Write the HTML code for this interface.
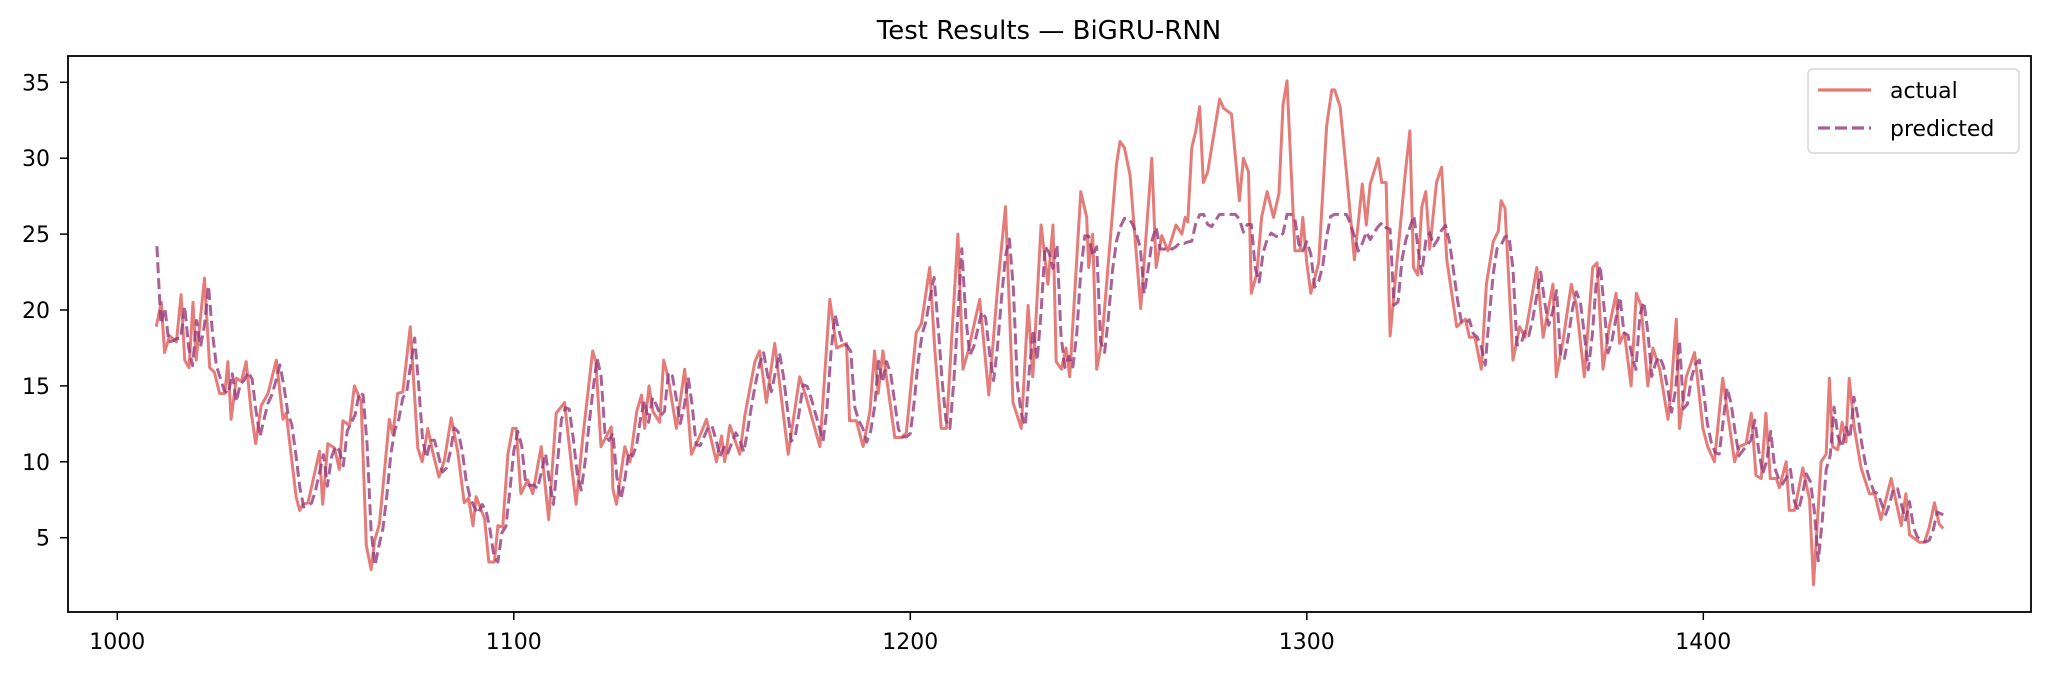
<!DOCTYPE html>
<html><head><meta charset="utf-8"><style>
html,body{margin:0;padding:0;background:#fff;}
svg{display:block;font-family:"DejaVu Sans","Liberation Sans",sans-serif;}
</style></head><body>
<svg id="s" width="2048" height="675" viewBox="0 0 2048 675" xmlns="http://www.w3.org/2000/svg">
<rect width="2048" height="675" fill="#fff"/>
<text x="1049" y="39" font-size="26" text-anchor="middle" fill="#000">Test Results — BiGRU-RNN</text>
<g id="plot"></g>
<rect x="68" y="56" width="1963" height="556" fill="none" stroke="#000" stroke-width="1.8"/>
<g id="ticks" font-size="22" fill="#000"></g>
<g>
<rect x="1808" y="69" width="211" height="84" rx="5" fill="#fff" fill-opacity="0.8" stroke="#d6d6d6" stroke-width="1.5"/>
<line x1="1818" y1="90" x2="1871" y2="90" stroke="#e06a66" stroke-opacity="0.9" stroke-width="3.2"/>
<line x1="1818" y1="128" x2="1871" y2="128" stroke="#953a7c" stroke-opacity="0.82" stroke-width="3.2" stroke-dasharray="12,5"/>
<text x="1890" y="98" font-size="22">actual</text>
<text x="1890" y="136" font-size="22">predicted</text>
</g>
</svg>
<script>
var K=[[1009.8,18.9],[1011.1,20.5],[1011.9,17.2],[1013.2,18.3],[1014.9,17.9],[1016.1,21],[1017,16.7],[1018.1,16.2],[1019.1,20.5],[1019.9,16.7],[1022,22.1],[1023.3,16.2],[1024.5,15.9],[1025.8,14.5],[1027.1,14.5],[1027.9,16.6],[1028.7,12.8],[1030,15.5],[1031.3,15.3],[1032.5,16.6],[1033.8,13.2],[1034.9,11.2],[1036.3,13.7],[1038,14.5],[1040.1,16.7],[1041.8,12.8],[1042.6,13.2],[1045.1,7.7],[1046,6.8],[1046.8,7.2],[1048.1,7.3],[1051,10.7],[1051.8,7.2],[1053.1,11.2],[1054.8,10.9],[1056,9.5],[1056.9,12.7],[1058.6,12.4],[1059.8,15],[1061.5,14],[1062.8,4.5],[1064,2.9],[1064.9,4.8],[1066.1,5.9],[1067.4,9.4],[1068.6,12.8],[1069.5,11.8],[1070.7,14.5],[1072,14.6],[1073.9,18.9],[1075.8,10.9],[1076.9,10],[1078.3,12.2],[1079.6,10.6],[1081.1,9],[1082.5,10.1],[1084.2,12.9],[1085.9,10.6],[1087.5,7.3],[1088.6,7.6],[1089.7,5.8],[1090.5,7.7],[1091.8,6.8],[1092.6,6.3],[1093.7,3.4],[1095.1,3.4],[1096,5.8],[1097.2,5.7],[1098.5,10.5],[1099.7,12.2],[1100.6,12.2],[1101.8,7.9],[1103.5,8.8],[1104.8,7.9],[1106.9,11],[1108.8,6.2],[1110.7,13.2],[1112.8,13.9],[1114.4,10.1],[1115.7,7.2],[1117.4,11.6],[1119.9,17.3],[1120.7,16.6],[1122,11.0],
[1124.6,12.3],[1125,8.2],[1125.9,7.2],[1128,11],[1129.3,10],[1131,13.3],[1132.2,14.4],[1133,12.2],[1134.1,15],[1135.1,13.3],[1136.8,12.6],[1137.8,16.7],[1138.9,15.6],[1141,12.2],[1143.1,16.1],[1144.8,10.5],[1146.9,11.7],[1148.6,12.8],[1151.1,10],[1152.4,11.7],[1153.2,10],[1154.5,12.4],[1157,10.5],[1158.3,13.1],[1160.8,16.6],[1162,17.3],[1163.7,13.9],[1165.8,17.8],[1169.2,10.5],[1172.1,15.6],[1173.8,14.2],[1177.2,11],[1179.7,20.7],[1181.4,17.5],[1183.9,17.8],[1184.7,12.7],[1186.4,12.7],[1188.1,11],[1189.8,13.3],[1191,17.3],[1191.9,14.5],[1193.1,17.3],[1196.1,11.6],[1197.8,11.6],[1199,11.9],[1201.5,18.5],[1202.8,19.1],[1204.9,22.8],[1206.2,17.3],[1207.8,12.2],[1209.1,12.2],[1212,25],[1213.3,16.1],[1214.6,17.3],[1217.5,20.7],[1219.8,14.4],[1222.1,21.7],[1224,26.8],[1225.9,13.9],[1228,12.2],[1229.7,20.3],[1230.9,15.6],[1233,25.6],[1234.7,21.7],[1236,25.6],[1236.8,16.6],[1238.1,16.1],[1239.3,17.5],[1240.2,15.6],
[1243,27.8],[1244.5,26.1],[1245,22.8],[1246,25],[1247,16.1],[1248.3,17.9],[1250.4,24.5],[1252,29.6],[1252.9,31.1],[1254,30.7],[1255.4,28.9],[1258.1,20.1],[1260.9,30],[1262,22.8],[1263.4,24.9],[1265,23.9],[1267,25.6],[1268.5,25],[1269.3,26.1],[1270,25.8],[1271,30.7],[1272,31.8],[1273,33.4],[1273.9,28.4],[1275,29.1],[1278,33.9],[1279,33.3],[1281,32.9],[1283,27.2],[1284,30],[1285.3,29.1],[1286,21.1],[1287.4,22.4],[1288.6,26.1],[1290,27.8],[1291.6,26.1],[1293,27.7],[1294,33.5],[1295,35.1],[1297,23.9],[1298.3,23.9],[1299,26.1],[1300,23.1],[1301,21.1],[1303,23.1],[1305,32.1],[1306.3,34.5],[1307,34.5],[1308.4,33.4],[1310,29.1],[1312,23.3],[1314,28.3],[1315,25.6],[1316,28.3],[1318,30],[1318.9,28.4],[1320,28.4],[1321,18.3],[1324.8,28.9],[1326,31.8],[1326.9,22.8],[1328,22.3],[1329,26.8],[1330,27.8],[1331,24],[1332.7,28.4],[1334,29.4],[1335.3,23.3],[1337.8,18.9],[1340,19.4],[1341,18.2],[1342.4,18.2],[1344,16.1],[1345.3,21.7],[1347,24.5],[1348.3,25.2],[1349,27.2],[1350,26.7],[1352,16.7],[1353.7,18.9],[1355,18.2],[1358,22.8],[1359.6,18.2],
[1362.1,21.7],[1362.9,15.6],[1364.6,17.9],[1366.7,21.7],[1368,20.3],[1370,15.6],[1372.1,22.8],[1373.2,23.1],[1374.7,16.1],[1376.3,18.9],[1378,21.1],[1378.9,17.8],[1380.1,18.5],[1381.8,15],[1383.1,21.1],[1384.3,20.3],[1386,15],[1387.3,17.5],[1389,16.1],[1391.1,12.8],[1391.9,14.8],[1393.2,19.4],[1394,12.2],[1395.7,15.6],[1397.8,17.2],[1399.9,12.2],[1401.1,11],[1402.8,10],[1404.9,15.5],[1407.9,10],[1409.1,11],[1410.8,11.2],[1412.1,13.2],[1413.3,9.1],[1414.6,8.9],[1415.8,13.2],[1416.9,8.9],[1418.4,8.9],[1419.2,8.3],[1420.9,10],[1421.7,6.8],[1423,6.8],[1425.1,9.6],[1426.8,7.5],[1427.8,1.9],[1429.7,10],[1431,10.5],[1431.8,15.5],[1432.6,11],[1433.9,10.8],[1435,12.6],[1436,11.3],[1436.8,15.5],[1438.1,12.2],[1439.8,9.6],[1441.9,7.9],[1443.2,7.9],[1444.8,6.2],[1447.4,8.9],[1449.9,5.8],[1451.1,7.9],[1452,5.2],[1454.5,4.7],[1455.8,4.7],[1457,5.7],[1458.3,7.3],[1459.5,5.9],[1460.5,5.6]];
function X(d){return 117.3+(d-1000)*3.965;}
function Y(v){return 537.7-(v-5)*15.18;}
function interp(d){if(d<=K[0][0])return K[0][1];for(var i=1;i<K.length;i++){if(d<=K[i][0]){var a=K[i-1],b=K[i];return a[1]+(b[1]-a[1])*(d-a[0])/(b[0]-a[0]);}}return K[K.length-1][1];}
var ap=K.map(function(p){return X(p[0]).toFixed(1)+','+Y(p[1]).toFixed(1);}).join(' ');
function cap(v){if(v>24){v=24+(v-24)*0.3;if(v>26.3)v=26.3;}return v;}
var pp=[];
for(var d=1010;d<=1460.5;d+=1){var v;if(d==1010)v=24.2;else v=cap(0.2*interp(d-2)+0.8*interp(d-1));pp.push(X(d).toFixed(1)+','+Y(v).toFixed(1));}
pp.push(X(1460.5).toFixed(1)+','+Y(6.5).toFixed(1));
var g=document.getElementById('plot');
g.innerHTML='<polyline points="'+ap+'" fill="none" stroke="#e06a66" stroke-opacity="0.88" stroke-width="3" stroke-linejoin="round"/>'+
'<polyline points="'+pp.join(' ')+'" fill="none" stroke="#953a7c" stroke-opacity="0.8" stroke-width="3" stroke-dasharray="11,5" stroke-linejoin="round"/>';
var t='';
[5,10,15,20,25,30,35].forEach(function(v){var y=Y(v);t+='<line x1="60" y1="'+y+'" x2="68" y2="'+y+'" stroke="#000" stroke-width="1.5"/><text x="50" y="'+(y+8)+'" text-anchor="end">'+v+'</text>';});
[1000,1100,1200,1300,1400].forEach(function(d){var x=X(d);t+='<line x1="'+x+'" y1="612" x2="'+x+'" y2="620" stroke="#000" stroke-width="1.5"/><text x="'+x+'" y="649" text-anchor="middle">'+d+'</text>';});
document.getElementById('ticks').innerHTML=t;
</script>
</body></html>
